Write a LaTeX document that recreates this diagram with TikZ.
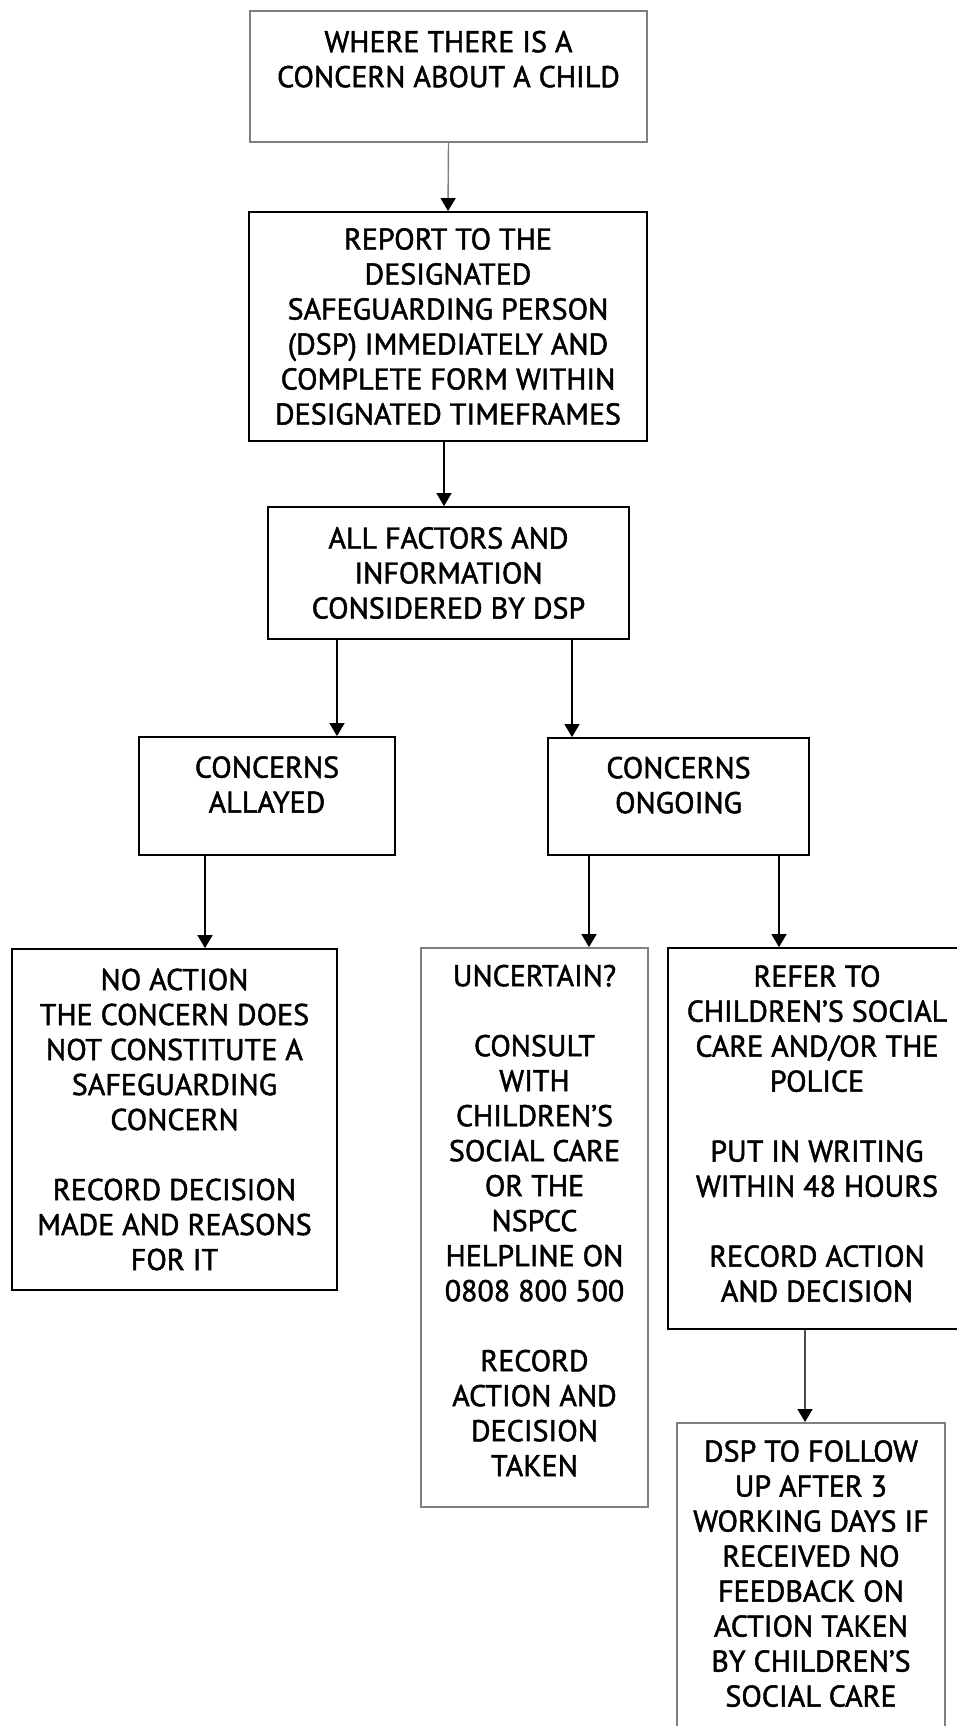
\documentclass[tikz,border=0pt]{standalone}
\usepackage{fontspec}
\setmainfont{PT Sans}
\newfontfamily\boxfont{PT Sans}[FakeBold=1.6]
\usetikzlibrary{arrows.meta}
\definecolor{boxgray}{RGB}{128,128,128}
\tikzset{
  box/.style={draw=black, line width=1.8pt, align=center, inner sep=0pt,
    font=\boxfont\fontsize{30}{35}\selectfont},
  graybox/.style={box, draw=boxgray},
  arrow/.style={->, >={Triangle[length=13pt,width=15pt,color=black]}, line width=1.4pt},
}
\begin{document}
\begin{tikzpicture}[x=1pt,y=-1pt]
\useasboundingbox (0,0) rectangle (957,1726);
\clip (0,0) rectangle (957,1726);
\node[graybox, minimum width=397pt, minimum height=131pt] (concern) at (448.5,76.5)
  {WHERE THERE IS A\\CONCERN ABOUT A CHILD\\ \mbox{}};
\node[box, minimum width=398pt, minimum height=229pt] (report) at (448,326.5)
  {REPORT TO THE\\DESIGNATED\\SAFEGUARDING PERSON\\(DSP) IMMEDIATELY AND\\COMPLETE FORM WITHIN\\DESIGNATED TIMEFRAMES};
\node[box, minimum width=361pt, minimum height=132pt] (factors) at (448.5,573)
  {ALL FACTORS AND\\INFORMATION\\CONSIDERED BY DSP};
\node[box, minimum width=256pt, minimum height=118pt] (allayed) at (267,796)
  {CONCERNS\\ALLAYED\\[-12pt]\mbox{}};
\node[box, minimum width=261pt, minimum height=117pt] (ongoing) at (678.5,796.5)
  {CONCERNS\\ONGOING\\[-12pt]\mbox{}};
\node[box, minimum width=325pt, minimum height=341pt] (noaction) at (174.5,1119.5)
  {NO ACTION\\THE CONCERN DOES\\NOT CONSTITUTE A\\SAFEGUARDING\\CONCERN\\ \mbox{}\\RECORD DECISION\\MADE AND REASONS\\FOR IT};
\node[graybox, minimum width=227pt, minimum height=559pt] (uncertain) at (534.5,1227.5)
  {UNCERTAIN?\\ \mbox{}\\CONSULT\\WITH\\CHILDREN’S\\SOCIAL CARE\\OR THE\\NSPCC\\HELPLINE ON\\0808 800 500\\ \mbox{}\\RECORD\\ACTION AND\\DECISION\\TAKEN\\[-21pt]\mbox{}};
\node[box, minimum width=298pt, minimum height=381pt] (refer) at (817,1138.5)
  {REFER TO\\CHILDREN’S SOCIAL\\CARE AND/OR THE\\POLICE\\ \mbox{}\\PUT IN WRITING\\WITHIN 48 HOURS\\ \mbox{}\\RECORD ACTION\\AND DECISION\\[-25pt]\mbox{}};
\node[graybox, anchor=north, minimum width=268pt, minimum height=336pt] (followup) at (811,1422)
  {DSP TO FOLLOW\\UP AFTER 3\\WORKING DAYS IF\\RECEIVED NO\\FEEDBACK ON\\ACTION TAKEN\\BY CHILDREN’S\\SOCIAL CARE\\ \mbox{}};
\draw[arrow, boxgray] (concern.south) -- (report.north);
\draw[arrow] ([xshift=-4pt]report.south) -- ([xshift=-4pt]report.south |- factors.north);
\draw[arrow] ([xshift=-111.5pt]factors.south) -- ([xshift=-111.5pt]factors.south |- allayed.north);
\draw[arrow] ([xshift=123.5pt]factors.south) -- ([xshift=123.5pt]factors.south |- ongoing.north);
\draw[arrow] ([xshift=-62pt]allayed.south) -- ([xshift=-62pt]allayed.south |- noaction.north);
\draw[arrow] ([xshift=-89.5pt]ongoing.south) -- ([xshift=-89.5pt]ongoing.south |- uncertain.north);
\draw[arrow] ([xshift=100.5pt]ongoing.south) -- ([xshift=100.5pt]ongoing.south |- refer.north);
\draw[arrow, black!70] ([xshift=-12pt]refer.south) -- ([xshift=-12pt]refer.south |- followup.north);
\end{tikzpicture}
\end{document}
